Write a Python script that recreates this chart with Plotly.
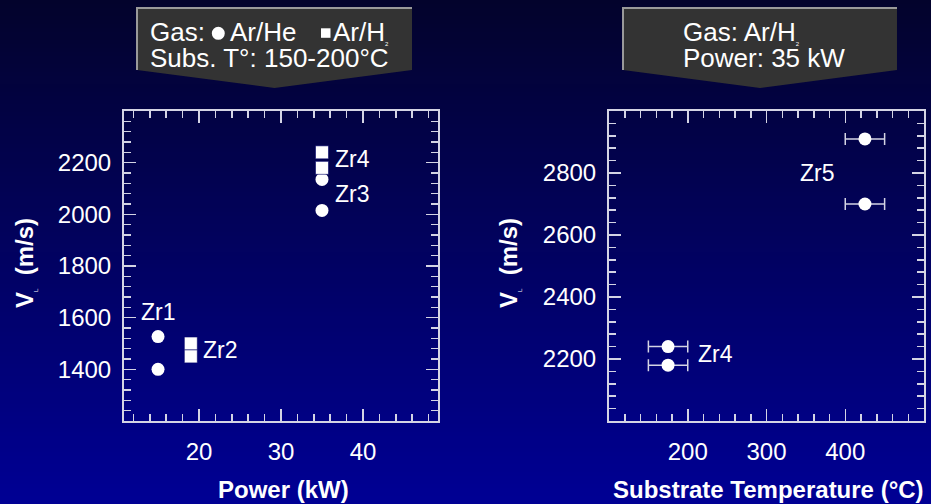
import plotly.graph_objects as go

# ---------------- data ----------------
power_arhe = [15, 15, 35, 35]
vl_arhe = [1527, 1400, 2135, 2015]
power_arh2 = [19, 19, 35, 35]
vl_arh2 = [1500, 1450, 2240, 2180]

temp_sub = [175, 175, 425, 425]
vl_temp = [2240, 2180, 2910, 2700]
temp_err = [25, 25, 25, 25]

left_xticks = [20, 30, 40]
left_yticks = [1400, 1600, 1800, 2000, 2200]
right_xticks = [200, 300, 400]
right_yticks = [2200, 2400, 2600, 2800]

W, H = 931, 504
FONT = "Liberation Sans, Arial, sans-serif"
AXC = "#d4d4e4"


def px(x):
    return x / W


def py(y):
    return 1 - y / H


fig = go.Figure()

fig.add_trace(go.Scatter(x=power_arhe, y=vl_arhe, mode="markers",
                         marker=dict(symbol="circle", size=13, color="white", line=dict(width=0)),
                         xaxis="x", yaxis="y"))
fig.add_trace(go.Scatter(x=power_arh2, y=vl_arh2, mode="markers",
                         marker=dict(symbol="square", size=13, color="white",
                                     line=dict(width=0.6, color="#000066")),
                         xaxis="x", yaxis="y"))
fig.add_trace(go.Scatter(x=temp_sub, y=vl_temp, mode="markers",
                         marker=dict(symbol="circle", size=13, color="white", line=dict(width=0)),
                         error_x=dict(type="data", array=temp_err, color=AXC, thickness=1.5, width=6),
                         xaxis="x2", yaxis="y2"))

# ---------------- background gradient ----------------
shapes = []
n = 126
top = (3, 3, 44)
bot = (0, 0, 148)
for i in range(n):
    t = i / (n - 1)
    c = tuple(round(top[k] + (bot[k] - top[k]) * t) for k in range(3))
    y0 = i * H / n
    y1 = (i + 1) * H / n + 0.5
    shapes.append(dict(type="rect", xref="paper", yref="paper", x0=0, x1=1,
                       y0=py(min(y1, H)), y1=py(y0), fillcolor="rgb(%d,%d,%d)" % c,
                       line=dict(width=0), layer="below"))


def callout(x0, x1, ytop, ybot, ytip):
    xm = (x0 + x1) / 2
    path = "M %f %f L %f %f L %f %f L %f %f L %f %f Z" % (
        px(x0), py(ytop), px(x1), py(ytop), px(x1), py(ybot), px(xm), py(ytip), px(x0), py(ybot))
    shapes.append(dict(type="path", xref="paper", yref="paper", path=path,
                       fillcolor="#333333", line=dict(width=0), layer="below"))
    border = "M %f %f L %f %f L %f %f" % (px(x0), py(ybot), px(x0), py(ytop), px(x1), py(ytop))
    shapes.append(dict(type="path", xref="paper", yref="paper", path=border,
                       line=dict(color="#9a9a9a", width=2), layer="below"))


callout(137, 412, 8, 70, 88)
callout(623, 897, 8, 70, 88)

# legend symbols in the left callout
shapes.append(dict(type="circle", xref="paper", yref="paper",
                   x0=px(211.8), x1=px(224.8), y0=py(39.8), y1=py(26.8),
                   fillcolor="white", line=dict(width=0), layer="above"))
shapes.append(dict(type="rect", xref="paper", yref="paper",
                   x0=px(321), x1=px(330.5), y0=py(37.8), y1=py(28.3),
                   fillcolor="white", line=dict(width=0), layer="above"))

SUB2 = "<sub><span style='font-size:6px'>2</span></sub>"
SUBL = "<sub><span style='font-size:6px'>L</span></sub>"

annotations = []


def ptext(text, x, y, size=26, xanchor="left", bold=False, angle=0):
    annotations.append(dict(text=("<b>%s</b>" % text) if bold else text,
                            xref="paper", yref="paper", x=px(x), y=py(y),
                            xanchor=xanchor, yanchor="middle", showarrow=False,
                            textangle=angle,
                            font=dict(family=FONT, size=size, color="white")))


# callout texts
ptext("Gas:", 148, 32)
ptext("Ar/He", 228, 32)
ptext("Ar/H" + SUB2, 331, 32)
ptext("Subs. T°: 150-200°C", 148, 58)
ptext("Gas: Ar/H" + SUB2, 681, 32)
ptext("Power: 35 kW", 681, 58)

# axis titles
ptext("Power (kW)", 283, 489, size=24, xanchor="center", bold=True)
ptext("Substrate Temperature (°C)", 768, 489, size=24, xanchor="center", bold=True)
for xt in (25, 509):
    annotations.append(dict(text="<b>V</b>" + SUBL + "<b>  (m/s)</b>", xref="paper", yref="paper",
                            x=px(xt), y=py(263), xanchor="center", yanchor="middle",
                            showarrow=False, textangle=-90,
                            font=dict(family=FONT, size=24, color="white")))


# point labels
def dlabel(text, x, y, xref, yref, xanchor="left"):
    annotations.append(dict(text=text, x=x, y=y, xref=xref, yref=yref, xanchor=xanchor,
                            yanchor="middle", showarrow=False,
                            font=dict(family=FONT, size=23, color="white")))


dlabel("Zr1", 15, 1623, "x", "y", xanchor="center")
dlabel("Zr2", 20.2, 1475, "x", "y")
dlabel("Zr4", 36.4, 2213, "x", "y")
dlabel("Zr3", 36.4, 2080, "x", "y")
dlabel("Zr5", 365, 2800, "x2", "y2", xanchor="center")
dlabel("Zr4", 211, 2216, "x2", "y2")


def axis(domain, rng, tickvals, minor_dtick, standoff):
    return dict(domain=domain, range=rng, tickvals=tickvals, ticks="inside", ticklen=12,
                tickwidth=1.5, tickcolor=AXC, showline=True, linewidth=2, linecolor=AXC,
                mirror="ticks", showgrid=False, zeroline=False,
                tickfont=dict(family=FONT, size=24, color="white"),
                ticklabelstandoff=standoff,
                minor=dict(dtick=minor_dtick, tick0=0, ticks="inside", ticklen=7,
                           tickwidth=1.5, tickcolor=AXC, showgrid=False))


ydom = [py(421), py(111)]
fig.update_layout(
    width=W, height=H,
    margin=dict(l=0, r=0, t=0, b=0),
    paper_bgcolor="#000050",
    plot_bgcolor="rgba(0,0,0,0)",
    showlegend=False,
    hovermode=False,
    shapes=shapes,
    annotations=annotations,
    xaxis=dict(axis([px(124), px(438)], [10.85, 49.15], left_xticks, 2, 8), anchor="y"),
    yaxis=dict(axis(ydom, [1200, 2400], left_yticks, 40, 6), anchor="x"),
    xaxis2=dict(axis([px(609), px(924)], [100, 500], right_xticks, 20, 8), anchor="y2"),
    yaxis2=dict(axis(ydom, [2000, 3000], right_yticks, 40, 6), anchor="x2"),
)

fig.write_html("out.html", config={"displayModeBar": False, "staticPlot": True},
               post_script="document.body.style.margin='0';document.body.style.overflow='hidden';")
